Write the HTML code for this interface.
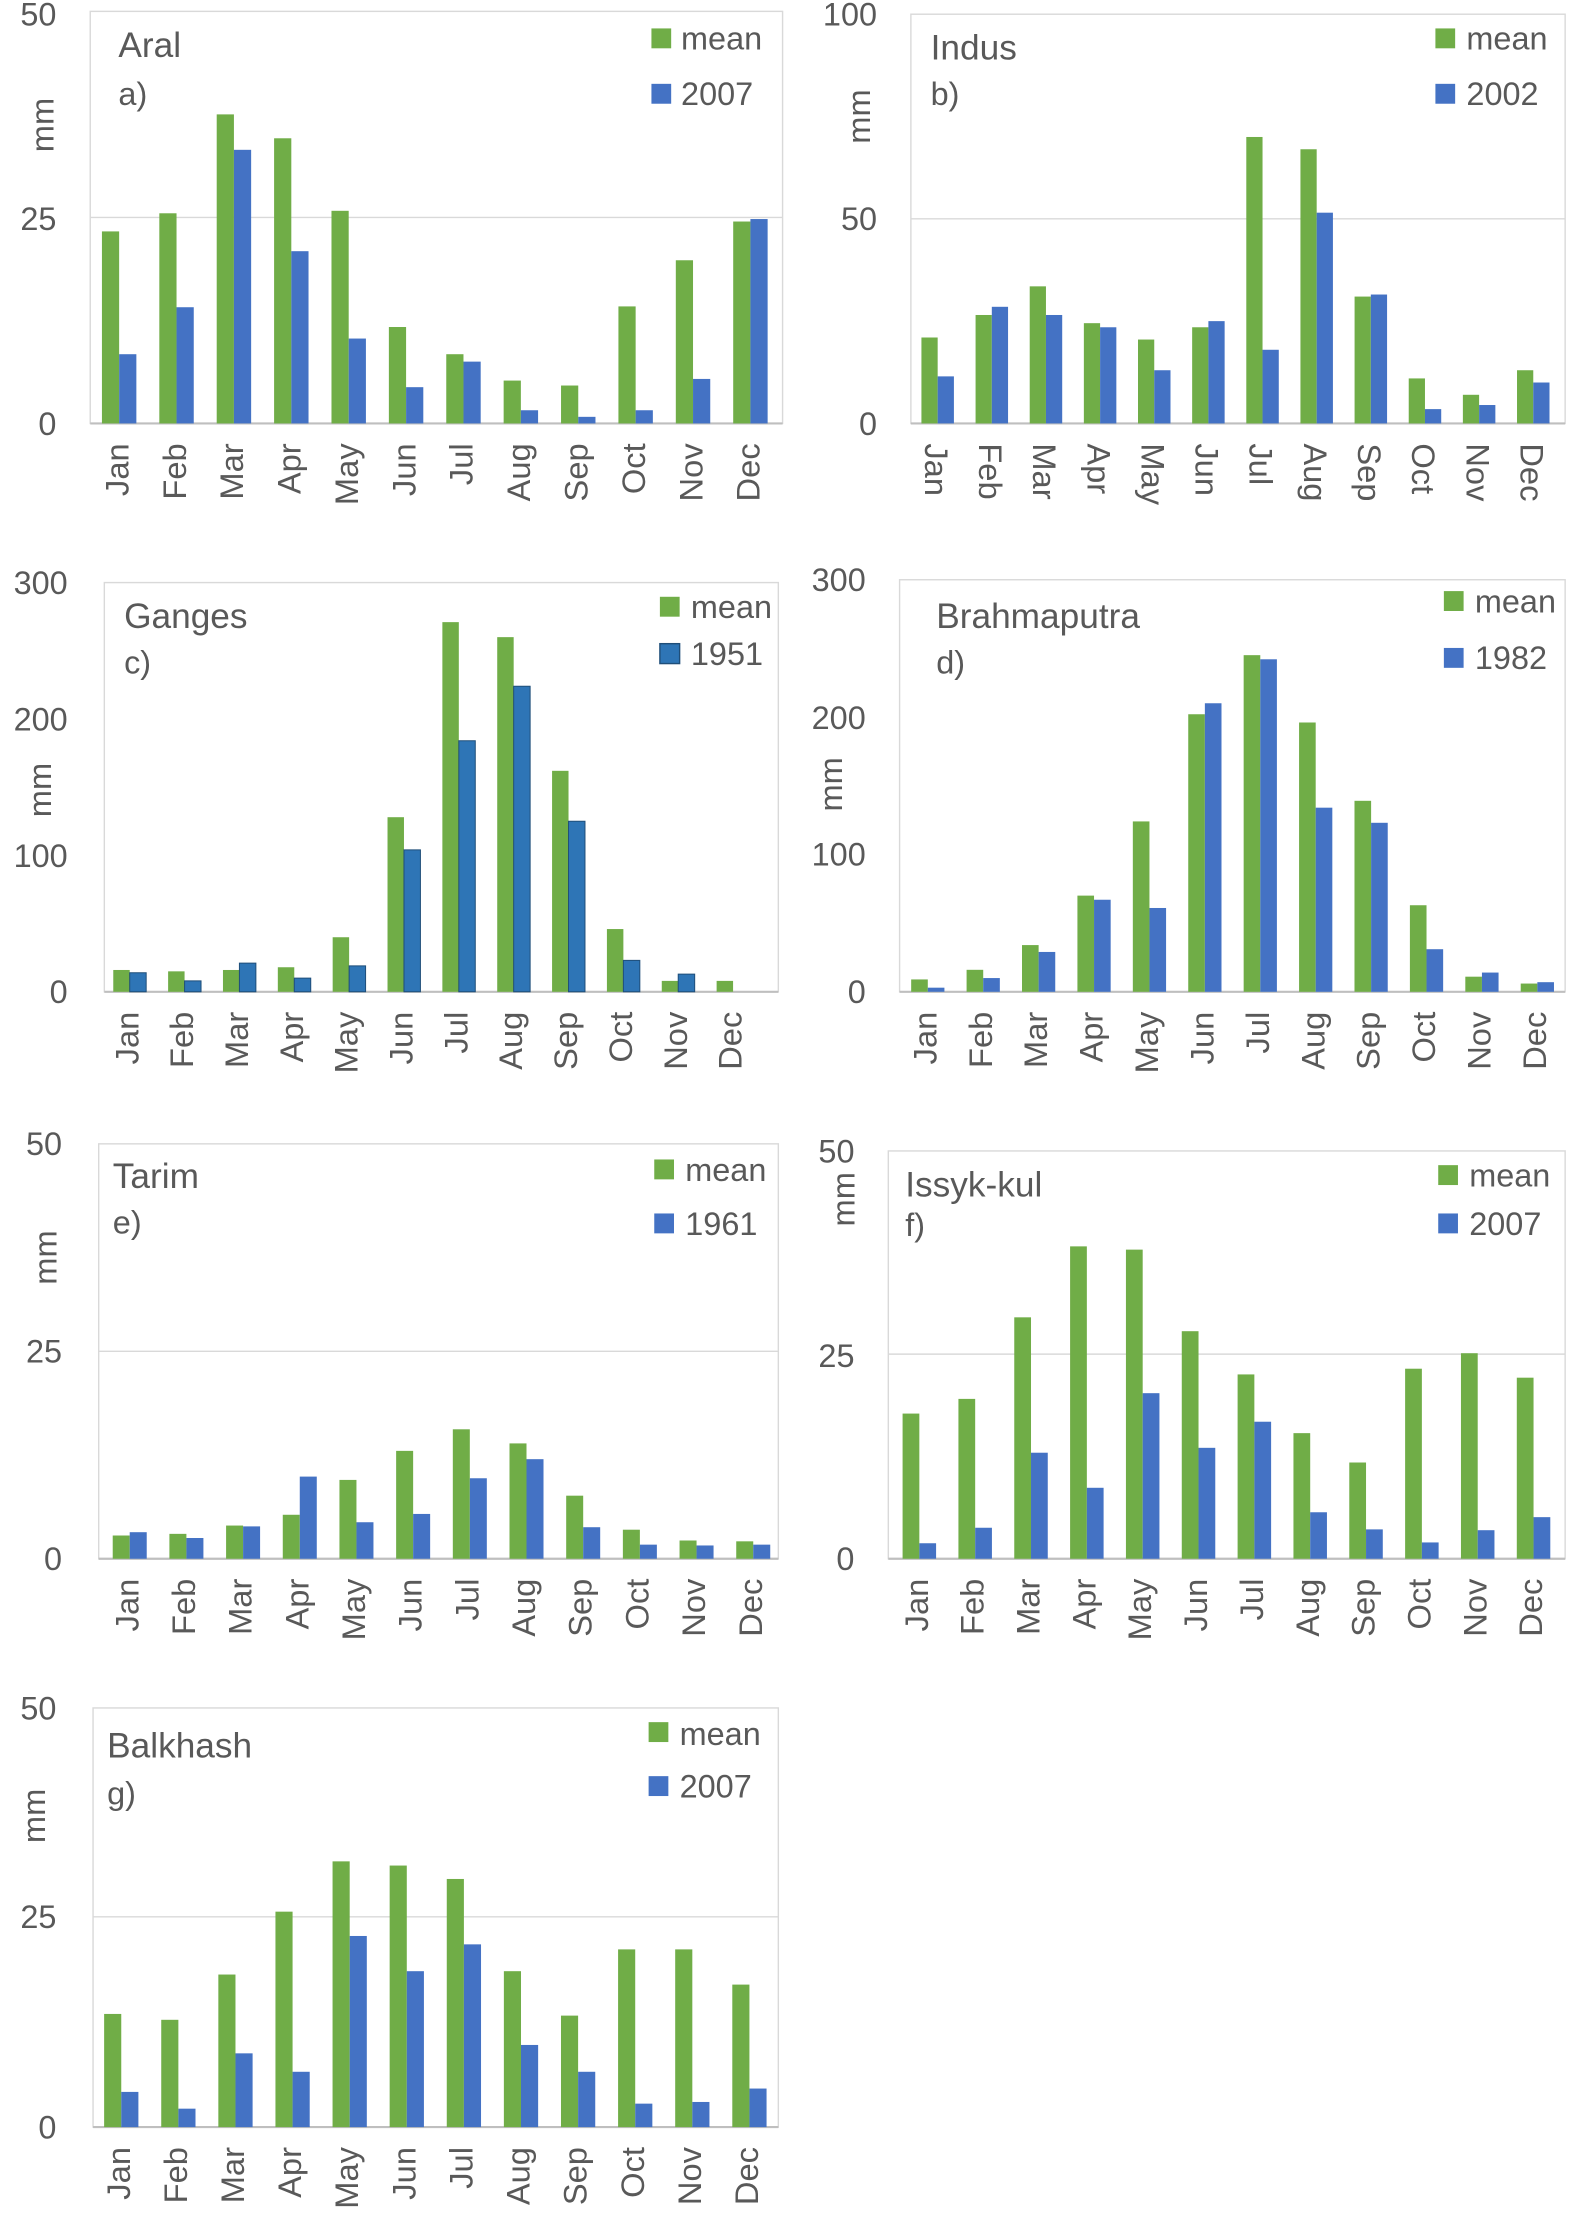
<!DOCTYPE html>
<html><head><meta charset="utf-8"><style>
html,body{margin:0;padding:0;background:#fff}
svg{display:block}
text{font-family:"Liberation Sans",sans-serif;fill:#595959}
.t{font-size:23px}
.ti{font-size:25px}
.g{fill:#70ad47}
.b{fill:#4472c4}
.bd{fill:#2e75b6;stroke:#1f4e79;stroke-width:1}
.fr{fill:none;stroke:#d9d9d9;stroke-width:1}
.gr{stroke:#d9d9d9;stroke-width:1}
.ax{stroke:#bfbfbf;stroke-width:1.5}
</style></head><body>
<svg width="1575" height="2228" viewBox="0 0 1117 1568" preserveAspectRatio="none">

<!-- a) Aral -->
<rect class="fr" x="64" y="8" width="491" height="290"/>
<line class="gr" x1="64" y1="153" x2="555" y2="153"/>
<line class="ax" x1="64" y1="298" x2="555" y2="298"/>
<g class="t" text-anchor="end"><text x="40" y="18">50</text><text x="40" y="162">25</text><text x="40" y="306">0</text></g>
<text class="t" transform="translate(38,88) rotate(-90)" text-anchor="middle">mm</text>
<text class="ti" x="84" y="40">Aral</text><text class="t" x="84" y="74">a)</text>
<rect class="g" x="462" y="20" width="14" height="14"/><text class="t" x="483" y="35">mean</text>
<rect class="b" x="462" y="59" width="14" height="14"/><text class="t" x="483" y="74">2007</text>
<g transform="translate(84.5,298) scale(40.7,-5.8)">
<g class="g"><rect x="-.3" width=".3" height="23.3"/><rect x=".7" width=".3" height="25.5"/><rect x="1.7" width=".3" height="37.5"/><rect x="2.7" width=".3" height="34.6"/><rect x="3.7" width=".3" height="25.8"/><rect x="4.7" width=".3" height="11.7"/><rect x="5.7" width=".3" height="8.4"/><rect x="6.7" width=".3" height="5.2"/><rect x="7.7" width=".3" height="4.6"/><rect x="8.7" width=".3" height="14.2"/><rect x="9.7" width=".3" height="19.8"/><rect x="10.7" width=".3" height="24.5"/></g>
<g class="b"><rect x="0" width=".3" height="8.4"/><rect x="1" width=".3" height="14.1"/><rect x="2" width=".3" height="33.2"/><rect x="3" width=".3" height="20.9"/><rect x="4" width=".3" height="10.3"/><rect x="5" width=".3" height="4.4"/><rect x="6" width=".3" height="7.5"/><rect x="7" width=".3" height="1.6"/><rect x="8" width=".3" height="0.8"/><rect x="9" width=".3" height="1.6"/><rect x="10" width=".3" height="5.4"/><rect x="11" width=".3" height="24.8"/></g>
</g>
<g class="t" transform="translate(85,312)" text-anchor="end" dominant-baseline="middle">
<text transform="rotate(-90)">Jan</text><text transform="translate(40.7) rotate(-90)">Feb</text><text transform="translate(81.4) rotate(-90)">Mar</text><text transform="translate(122.1) rotate(-90)">Apr</text><text transform="translate(162.8) rotate(-90)">May</text><text transform="translate(203.5) rotate(-90)">Jun</text><text transform="translate(244.2) rotate(-90)">Jul</text><text transform="translate(284.9) rotate(-90)">Aug</text><text transform="translate(325.6) rotate(-90)">Sep</text><text transform="translate(366.3) rotate(-90)">Oct</text><text transform="translate(407) rotate(-90)">Nov</text><text transform="translate(447.7) rotate(-90)">Dec</text></g>

<!-- b) Indus -->
<rect class="fr" x="646" y="10" width="464" height="288"/>
<line class="gr" x1="646" y1="154" x2="1110" y2="154"/>
<line class="ax" x1="646" y1="298" x2="1110" y2="298"/>
<g class="t" text-anchor="end"><text x="622" y="18">100</text><text x="622" y="162">50</text><text x="622" y="306">0</text></g>
<text class="t" transform="translate(617,82) rotate(-90)" text-anchor="middle">mm</text>
<text class="ti" x="660" y="42">Indus</text><text class="t" x="660" y="74">b)</text>
<rect class="g" x="1018" y="20" width="14" height="14"/><text class="t" x="1040" y="35">mean</text>
<rect class="b" x="1018" y="59" width="14" height="14"/><text class="t" x="1040" y="74">2002</text>
<g transform="translate(665,298) scale(38.4,-2.88)">
<g class="g"><rect x="-.3" width=".3" height="21"/><rect x=".7" width=".3" height="26.5"/><rect x="1.7" width=".3" height="33.5"/><rect x="2.7" width=".3" height="24.5"/><rect x="3.7" width=".3" height="20.5"/><rect x="4.7" width=".3" height="23.5"/><rect x="5.7" width=".3" height="70"/><rect x="6.7" width=".3" height="67"/><rect x="7.7" width=".3" height="31"/><rect x="8.7" width=".3" height="11"/><rect x="9.7" width=".3" height="7"/><rect x="10.7" width=".3" height="13"/></g>
<g class="b"><rect x="0" width=".3" height="11.5"/><rect x="1" width=".3" height="28.5"/><rect x="2" width=".3" height="26.5"/><rect x="3" width=".3" height="23.5"/><rect x="4" width=".3" height="13"/><rect x="5" width=".3" height="25"/><rect x="6" width=".3" height="18"/><rect x="7" width=".3" height="51.5"/><rect x="8" width=".3" height="31.5"/><rect x="9" width=".3" height="3.5"/><rect x="10" width=".3" height="4.5"/><rect x="11" width=".3" height="10"/></g>
</g>
<g class="t" transform="translate(662,312)" text-anchor="start" dominant-baseline="middle">
<text transform="rotate(90)">Jan</text><text transform="translate(38.4) rotate(90)">Feb</text><text transform="translate(76.8) rotate(90)">Mar</text><text transform="translate(115.2) rotate(90)">Apr</text><text transform="translate(153.6) rotate(90)">May</text><text transform="translate(192) rotate(90)">Jun</text><text transform="translate(230.4) rotate(90)">Jul</text><text transform="translate(268.8) rotate(90)">Aug</text><text transform="translate(307.2) rotate(90)">Sep</text><text transform="translate(345.6) rotate(90)">Oct</text><text transform="translate(384) rotate(90)">Nov</text><text transform="translate(422.4) rotate(90)">Dec</text></g>

<!-- c) Ganges -->
<rect class="fr" x="74" y="410" width="478" height="288"/>
<line class="ax" x1="74" y1="698" x2="552" y2="698"/>
<g class="t" text-anchor="end"><text x="48" y="418">300</text><text x="48" y="514">200</text><text x="48" y="610">100</text><text x="48" y="706">0</text></g>
<text class="t" transform="translate(36,556) rotate(-90)" text-anchor="middle">mm</text>
<text class="ti" x="88" y="442">Ganges</text><text class="t" x="88" y="474">c)</text>
<rect class="g" x="468" y="420" width="14" height="14"/><text class="t" x="490" y="435">mean</text>
<rect class="bd" x="468" y="453" width="14" height="14"/><text class="t" x="490" y="468">1951</text>
<g transform="translate(92,698) scale(38.9,-0.96)">
<g class="g"><rect x="-.3" width=".3" height="16"/><rect x=".7" width=".3" height="15"/><rect x="1.7" width=".3" height="16"/><rect x="2.7" width=".3" height="18"/><rect x="3.7" width=".3" height="40"/><rect x="4.7" width=".3" height="128"/><rect x="5.7" width=".3" height="271"/><rect x="6.7" width=".3" height="260"/><rect x="7.7" width=".3" height="162"/><rect x="8.7" width=".3" height="46"/><rect x="9.7" width=".3" height="8"/><rect x="10.7" width=".3" height="8"/></g>
<g class="bd"><rect vector-effect="non-scaling-stroke" x="0" width=".3" height="14"/><rect vector-effect="non-scaling-stroke" x="1" width=".3" height="8"/><rect vector-effect="non-scaling-stroke" x="2" width=".3" height="21"/><rect vector-effect="non-scaling-stroke" x="3" width=".3" height="10"/><rect vector-effect="non-scaling-stroke" x="4" width=".3" height="19"/><rect vector-effect="non-scaling-stroke" x="5" width=".3" height="104"/><rect vector-effect="non-scaling-stroke" x="6" width=".3" height="184"/><rect vector-effect="non-scaling-stroke" x="7" width=".3" height="224"/><rect vector-effect="non-scaling-stroke" x="8" width=".3" height="125"/><rect vector-effect="non-scaling-stroke" x="9" width=".3" height="23"/><rect vector-effect="non-scaling-stroke" x="10" width=".3" height="13"/></g>
</g>
<g class="t" transform="translate(92,712)" text-anchor="end" dominant-baseline="middle">
<text transform="rotate(-90)">Jan</text><text transform="translate(38.9) rotate(-90)">Feb</text><text transform="translate(77.8) rotate(-90)">Mar</text><text transform="translate(116.7) rotate(-90)">Apr</text><text transform="translate(155.6) rotate(-90)">May</text><text transform="translate(194.5) rotate(-90)">Jun</text><text transform="translate(233.4) rotate(-90)">Jul</text><text transform="translate(272.3) rotate(-90)">Aug</text><text transform="translate(311.2) rotate(-90)">Sep</text><text transform="translate(350.1) rotate(-90)">Oct</text><text transform="translate(389) rotate(-90)">Nov</text><text transform="translate(427.9) rotate(-90)">Dec</text></g>

<!-- d) Brahmaputra -->
<rect class="fr" x="638" y="408" width="472" height="290"/>
<line class="ax" x1="638" y1="698" x2="1110" y2="698"/>
<g class="t" text-anchor="end"><text x="614" y="416">300</text><text x="614" y="513">200</text><text x="614" y="609">100</text><text x="614" y="706">0</text></g>
<text class="t" transform="translate(597,552) rotate(-90)" text-anchor="middle">mm</text>
<text class="ti" x="664" y="442">Brahmaputra</text><text class="t" x="664" y="474">d)</text>
<rect class="g" x="1024" y="416" width="14" height="14"/><text class="t" x="1046" y="431">mean</text>
<rect class="b" x="1024" y="456" width="14" height="14"/><text class="t" x="1046" y="471">1982</text>
<g transform="translate(658,698) scale(39.3,-0.967)">
<g class="g"><rect x="-.3" width=".3" height="9"/><rect x=".7" width=".3" height="16"/><rect x="1.7" width=".3" height="34"/><rect x="2.7" width=".3" height="70"/><rect x="3.7" width=".3" height="124"/><rect x="4.7" width=".3" height="202"/><rect x="5.7" width=".3" height="245"/><rect x="6.7" width=".3" height="196"/><rect x="7.7" width=".3" height="139"/><rect x="8.7" width=".3" height="63"/><rect x="9.7" width=".3" height="11"/><rect x="10.7" width=".3" height="6"/></g>
<g class="b"><rect x="0" width=".3" height="3"/><rect x="1" width=".3" height="10"/><rect x="2" width=".3" height="29"/><rect x="3" width=".3" height="67"/><rect x="4" width=".3" height="61"/><rect x="5" width=".3" height="210"/><rect x="6" width=".3" height="242"/><rect x="7" width=".3" height="134"/><rect x="8" width=".3" height="123"/><rect x="9" width=".3" height="31"/><rect x="10" width=".3" height="14"/><rect x="11" width=".3" height="7"/></g>
</g>
<g class="t" transform="translate(658,712)" text-anchor="end" dominant-baseline="middle">
<text transform="rotate(-90)">Jan</text><text transform="translate(39.3) rotate(-90)">Feb</text><text transform="translate(78.6) rotate(-90)">Mar</text><text transform="translate(117.9) rotate(-90)">Apr</text><text transform="translate(157.2) rotate(-90)">May</text><text transform="translate(196.5) rotate(-90)">Jun</text><text transform="translate(235.8) rotate(-90)">Jul</text><text transform="translate(275.1) rotate(-90)">Aug</text><text transform="translate(314.4) rotate(-90)">Sep</text><text transform="translate(353.7) rotate(-90)">Oct</text><text transform="translate(393) rotate(-90)">Nov</text><text transform="translate(432.3) rotate(-90)">Dec</text></g>

<!-- e) Tarim -->
<rect class="fr" x="70" y="805" width="482" height="292"/>
<line class="gr" x1="70" y1="951" x2="552" y2="951"/>
<line class="ax" x1="70" y1="1097" x2="552" y2="1097"/>
<g class="t" text-anchor="end"><text x="44" y="813">50</text><text x="44" y="959">25</text><text x="44" y="1105">0</text></g>
<text class="t" transform="translate(40,885) rotate(-90)" text-anchor="middle">mm</text>
<text class="ti" x="80" y="836">Tarim</text><text class="t" x="80" y="868">e)</text>
<rect class="g" x="464" y="816" width="14" height="14"/><text class="t" x="486" y="831">mean</text>
<rect class="b" x="464" y="854" width="14" height="14"/><text class="t" x="486" y="869">1961</text>
<g transform="translate(92,1097) scale(40.2,-5.84)">
<g class="g"><rect x="-.3" width=".3" height="2.8"/><rect x=".7" width=".3" height="3"/><rect x="1.7" width=".3" height="4"/><rect x="2.7" width=".3" height="5.3"/><rect x="3.7" width=".3" height="9.5"/><rect x="4.7" width=".3" height="13"/><rect x="5.7" width=".3" height="15.6"/><rect x="6.7" width=".3" height="13.9"/><rect x="7.7" width=".3" height="7.6"/><rect x="8.7" width=".3" height="3.5"/><rect x="9.7" width=".3" height="2.2"/><rect x="10.7" width=".3" height="2.1"/></g>
<g class="b"><rect x="0" width=".3" height="3.2"/><rect x="1" width=".3" height="2.5"/><rect x="2" width=".3" height="3.9"/><rect x="3" width=".3" height="9.9"/><rect x="4" width=".3" height="4.4"/><rect x="5" width=".3" height="5.4"/><rect x="6" width=".3" height="9.7"/><rect x="7" width=".3" height="12"/><rect x="8" width=".3" height="3.8"/><rect x="9" width=".3" height="1.7"/><rect x="10" width=".3" height="1.6"/><rect x="11" width=".3" height="1.7"/></g>
</g>
<g class="t" transform="translate(92,1111)" text-anchor="end" dominant-baseline="middle">
<text transform="rotate(-90)">Jan</text><text transform="translate(40.2) rotate(-90)">Feb</text><text transform="translate(80.4) rotate(-90)">Mar</text><text transform="translate(120.6) rotate(-90)">Apr</text><text transform="translate(160.8) rotate(-90)">May</text><text transform="translate(201) rotate(-90)">Jun</text><text transform="translate(241.2) rotate(-90)">Jul</text><text transform="translate(281.4) rotate(-90)">Aug</text><text transform="translate(321.6) rotate(-90)">Sep</text><text transform="translate(361.8) rotate(-90)">Oct</text><text transform="translate(402) rotate(-90)">Nov</text><text transform="translate(442.2) rotate(-90)">Dec</text></g>

<!-- f) Issyk-kul -->
<rect class="fr" x="630" y="810" width="480" height="287"/>
<line class="gr" x1="630" y1="953" x2="1110" y2="953"/>
<line class="ax" x1="630" y1="1097" x2="1110" y2="1097"/>
<g class="t" text-anchor="end"><text x="606" y="818">50</text><text x="606" y="962">25</text><text x="606" y="1105">0</text></g>
<text class="t" transform="translate(606,844) rotate(-90)" text-anchor="middle">mm</text>
<text class="ti" x="642" y="842">Issyk-kul</text><text class="t" x="642" y="870">f)</text>
<rect class="g" x="1020" y="820" width="14" height="14"/><text class="t" x="1042" y="835">mean</text>
<rect class="b" x="1020" y="854" width="14" height="14"/><text class="t" x="1042" y="869">2007</text>
<g transform="translate(652,1097) scale(39.6,-5.74)">
<g class="g"><rect x="-.3" width=".3" height="17.8"/><rect x=".7" width=".3" height="19.6"/><rect x="1.7" width=".3" height="29.6"/><rect x="2.7" width=".3" height="38.3"/><rect x="3.7" width=".3" height="37.9"/><rect x="4.7" width=".3" height="27.9"/><rect x="5.7" width=".3" height="22.6"/><rect x="6.7" width=".3" height="15.4"/><rect x="7.7" width=".3" height="11.8"/><rect x="8.7" width=".3" height="23.3"/><rect x="9.7" width=".3" height="25.2"/><rect x="10.7" width=".3" height="22.2"/></g>
<g class="b"><rect x="0" width=".3" height="1.9"/><rect x="1" width=".3" height="3.8"/><rect x="2" width=".3" height="13"/><rect x="3" width=".3" height="8.7"/><rect x="4" width=".3" height="20.3"/><rect x="5" width=".3" height="13.6"/><rect x="6" width=".3" height="16.8"/><rect x="7" width=".3" height="5.7"/><rect x="8" width=".3" height="3.6"/><rect x="9" width=".3" height="2"/><rect x="10" width=".3" height="3.5"/><rect x="11" width=".3" height="5.1"/></g>
</g>
<g class="t" transform="translate(652,1111)" text-anchor="end" dominant-baseline="middle">
<text transform="rotate(-90)">Jan</text><text transform="translate(39.6) rotate(-90)">Feb</text><text transform="translate(79.2) rotate(-90)">Mar</text><text transform="translate(118.8) rotate(-90)">Apr</text><text transform="translate(158.4) rotate(-90)">May</text><text transform="translate(198) rotate(-90)">Jun</text><text transform="translate(237.6) rotate(-90)">Jul</text><text transform="translate(277.2) rotate(-90)">Aug</text><text transform="translate(316.8) rotate(-90)">Sep</text><text transform="translate(356.4) rotate(-90)">Oct</text><text transform="translate(396) rotate(-90)">Nov</text><text transform="translate(435.6) rotate(-90)">Dec</text></g>

<!-- g) Balkhash -->
<rect class="fr" x="66" y="1202" width="486" height="295"/>
<line class="gr" x1="66" y1="1349" x2="552" y2="1349"/>
<line class="ax" x1="66" y1="1497" x2="552" y2="1497"/>
<g class="t" text-anchor="end"><text x="40" y="1210">50</text><text x="40" y="1357">25</text><text x="40" y="1505">0</text></g>
<text class="t" transform="translate(32,1278) rotate(-90)" text-anchor="middle">mm</text>
<text class="ti" x="76" y="1237">Balkhash</text><text class="t" x="76" y="1270">g)</text>
<rect class="g" x="460" y="1212" width="14" height="14"/><text class="t" x="482" y="1228">mean</text>
<rect class="b" x="460" y="1250" width="14" height="14"/><text class="t" x="482" y="1265">2007</text>
<g transform="translate(86,1497) scale(40.5,-5.9)">
<g class="g"><rect x="-.3" width=".3" height="13.5"/><rect x=".7" width=".3" height="12.8"/><rect x="1.7" width=".3" height="18.2"/><rect x="2.7" width=".3" height="25.7"/><rect x="3.7" width=".3" height="31.7"/><rect x="4.7" width=".3" height="31.2"/><rect x="5.7" width=".3" height="29.6"/><rect x="6.7" width=".3" height="18.6"/><rect x="7.7" width=".3" height="13.3"/><rect x="8.7" width=".3" height="21.2"/><rect x="9.7" width=".3" height="21.2"/><rect x="10.7" width=".3" height="17"/></g>
<g class="b"><rect x="0" width=".3" height="4.2"/><rect x="1" width=".3" height="2.2"/><rect x="2" width=".3" height="8.8"/><rect x="3" width=".3" height="6.6"/><rect x="4" width=".3" height="22.8"/><rect x="5" width=".3" height="18.6"/><rect x="6" width=".3" height="21.8"/><rect x="7" width=".3" height="9.8"/><rect x="8" width=".3" height="6.6"/><rect x="9" width=".3" height="2.8"/><rect x="10" width=".3" height="3"/><rect x="11" width=".3" height="4.6"/></g>
</g>
<g class="t" transform="translate(86,1511)" text-anchor="end" dominant-baseline="middle">
<text transform="rotate(-90)">Jan</text><text transform="translate(40.5) rotate(-90)">Feb</text><text transform="translate(81) rotate(-90)">Mar</text><text transform="translate(121.5) rotate(-90)">Apr</text><text transform="translate(162) rotate(-90)">May</text><text transform="translate(202.5) rotate(-90)">Jun</text><text transform="translate(243) rotate(-90)">Jul</text><text transform="translate(283.5) rotate(-90)">Aug</text><text transform="translate(324) rotate(-90)">Sep</text><text transform="translate(364.5) rotate(-90)">Oct</text><text transform="translate(405) rotate(-90)">Nov</text><text transform="translate(445.5) rotate(-90)">Dec</text></g>
</svg>
</body></html>
